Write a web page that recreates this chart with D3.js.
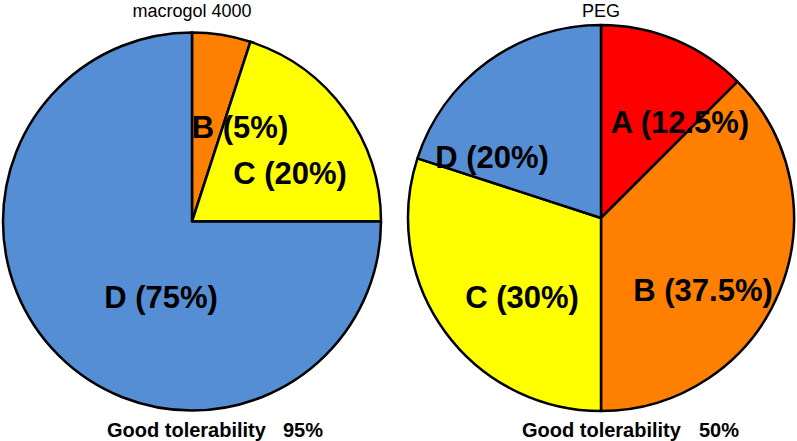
<!DOCTYPE html>
<html><head><meta charset="utf-8">
<script src="https://cdn.jsdelivr.net/npm/d3@7"></script>
<style>body{margin:0;background:#fff}svg{display:block}</style>
</head><body>
<svg id="c" width="797" height="441"></svg>
<script>
// ---- data ----
const categories = ["A", "B", "C", "D"];
const macrogolValues = [0, 5, 20, 75];
const pegValues = [12.5, 37.5, 30, 20];
const pieTitles = ["macrogol 4000", "PEG"];
const tolerabilityLabel = "Good tolerability";
const tolerabilityValues = ["95%", "50%"];

// ---- style / layout ----
const colors = {A: "#FF0000", B: "#FF8000", C: "#FFFF00", D: "#558ED5"};
const FONT = "Liberation Sans, Arial, sans-serif";
const pies = [
  {values: macrogolValues, cx: 192, cy: 221.5, r: 189, title: pieTitles[0], tol: tolerabilityValues[0],
   labelPos: {B: [240, 127], C: [290, 173], D: [161, 297]}, tolX: 107, pctX: 283},
  {values: pegValues, cx: 601, cy: 218, r: 193, title: pieTitles[1], tol: tolerabilityValues[1],
   labelPos: {A: [680, 122], B: [703, 290], C: [522, 297], D: [492, 157]}, tolX: 522, pctX: 699}
];

const svg = d3.select("#c");
const pie = d3.pie().sort(null).value(d => d.v);

pies.forEach(p => {
  const data = categories.map((c, i) => ({c, v: p.values[i]}));
  const arcs = pie(data).filter(a => a.data.v > 0);
  const arc = d3.arc().innerRadius(0).outerRadius(p.r);
  const g = svg.append("g").attr("transform", `translate(${p.cx},${p.cy})`);
  g.selectAll("path").data(arcs).join("path")
    .attr("d", arc)
    .attr("fill", d => colors[d.data.c])
    .attr("stroke", "#000")
    .attr("stroke-width", 2.5)
    .attr("stroke-linejoin", "round");

  svg.selectAll(null).data(arcs).join("text")
    .attr("x", d => p.labelPos[d.data.c][0])
    .attr("y", d => p.labelPos[d.data.c][1])
    .attr("text-anchor", "middle")
    .attr("dominant-baseline", "central")
    .attr("font-family", FONT)
    .attr("font-weight", "bold")
    .attr("font-size", 31)
    .attr("fill", "#000")
    .text(d => `${d.data.c} (${d.data.v}%)`);

  svg.append("text")
    .attr("x", p.cx).attr("y", 17)
    .attr("text-anchor", "middle")
    .attr("font-family", FONT)
    .attr("font-size", 18)
    .text(p.title);

  svg.append("text")
    .attr("x", p.tolX).attr("y", 437)
    .attr("font-family", FONT).attr("font-weight", "bold").attr("font-size", 20)
    .text(tolerabilityLabel);
  svg.append("text")
    .attr("x", p.pctX).attr("y", 437)
    .attr("font-family", FONT).attr("font-weight", "bold").attr("font-size", 20)
    .text(p.tol);
});
</script>
</body></html>
